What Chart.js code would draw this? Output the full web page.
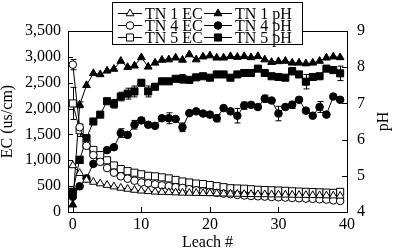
<!DOCTYPE html>
<html>
<head>
<meta charset="utf-8">
<script src="https://cdn.jsdelivr.net/npm/chart.js@4/dist/chart.umd.min.js"></script>
<style>
html, body { margin: 0; padding: 0; background: #fff; }
</style>
</head>
<body>
<canvas id="chart" width="393" height="251"></canvas>
<script>
// leach number (x)
const leach = [0, 1, 2, 3, 4, 5, 6, 7, 8, 9, 10, 11, 12, 13, 14, 15, 16, 17, 18, 19,
  20, 21, 22, 23, 24, 25, 26, 27, 28, 29, 30, 31, 32, 33, 34, 35, 36, 37, 38, 39];

// EC (us/cm), left axis
const tn1EC = [900, 750, 620, 580, 550, 520, 490, 465, 445, 425, 410, 400, 390, 385, 380, 375, 370, 368, 365, 362,
  360, 356, 354, 350, 348, 345, 344, 340, 340, 336, 335, 332, 330, 328, 326, 322, 320, 318, 316, 312];
const tn4EC = [2850, 1640, 1280, 1100, 970, 850, 760, 690, 645, 605, 570, 555, 535, 515, 500, 480, 465, 440, 420, 400,
  385, 370, 356, 345, 330, 320, 310, 304, 298, 291, 285, 279, 272, 266, 260, 255, 246, 240, 225, 213];
const tn5EC = [2100, 1580, 1300, 1200, 1100, 1000, 900, 830, 790, 760, 730, 700, 690, 670, 650, 620, 590, 570, 550, 540,
  520, 500, 480, 460, 455, 450, 440, 430, 425, 420, 415, 410, 400, 395, 390, 385, 380, 375, 370, 390];

// pH, right axis
const tn1pH = [4.2, 6.96, 7.5, 7.83, 7.8, 7.9, 7.95, 8.17, 8.0, 8.04, 8.27, 8.01, 8.12, 8.2, 8.21, 8.26, 8.2, 8.35, 8.21, 8.29,
  8.32, 8.26, 8.26, 8.3, 8.28, 8.3, 8.27, 8.3, 8.21, 8.14, 8.16, 8.17, 8.12, 8.12, 8.1, 8.12, 8.17, 8.26, 8.29, 8.27];
const tn4pH = [4.42, 4.71, 4.93, 5.33, 5.48, 5.71, 5.79, 6.18, 6.13, 6.41, 6.53, 6.41, 6.38, 6.59, 6.59, 6.57, 6.34, 6.73, 6.78, 6.72,
  6.69, 6.59, 6.87, 6.78, 6.66, 6.94, 6.96, 6.9, 7.13, 7.08, 6.72, 6.9, 6.96, 7.1, 6.8, 6.66, 6.9, 6.69, 7.19, 7.1];
const tn5pH = [4.56, 5.44, 6.04, 6.5, 6.69, 7.06, 6.99, 7.19, 7.27, 7.33, 7.57, 7.33, 7.46, 7.61, 7.61, 7.68, 7.68, 7.65, 7.72, 7.75,
  7.71, 7.8, 7.8, 7.71, 7.8, 7.84, 7.84, 7.96, 7.84, 7.75, 7.73, 7.71, 7.89, 7.8, 7.6, 7.73, 7.75, 7.96, 7.92, 7.83];

// error bars: [leach, +/- value]
const tn4ECErr = [[0, 100]];
const tn5ECErr = [[0, 310], [1, 120]];
const tn1pHErr = [[1, 0.08]];
const tn4pHErr = [[7, 0.12], [9, 0.12], [10, 0.08], [14, 0.15], [16, 0.12], [21, 0.1], [24, 0.2], [25, 0.1], [28, 0.1],
  [30, 0.2], [32, 0.1], [36, 0.15]];
const tn5pHErr = [[1, 0.1], [6, 0.12], [7, 0.12], [8, 0.15], [9, 0.15], [11, 0.15], [16, 0.12], [32, 0.1], [34, 0.2], [39, 0.2]];

// axis ticks
const xTicks = [0, 10, 20, 30, 40];
const ecTicks = [0, 500, 1000, 1500, 2000, 2500, 3000, 3500];
const phTicks = [4, 5, 6, 7, 8, 9];

const font = { family: 'Liberation Serif', size: 16 };
const titleFont = { family: 'Liberation Serif', size: 16, lineHeight: 1 };

function pts(arr) {
    return leach.map((x, i) => ({ x: x, y: arr[i] }));
}

function series(label, arr, axis, style, open, radius, errs) {
    return {
        label: label,
        data: pts(arr),
        yAxisID: axis,
        borderColor: '#000',
        borderWidth: 1,
        pointStyle: style,
        pointRadius: radius,
        pointBorderWidth: 1,
        pointBorderColor: '#000',
        pointBackgroundColor: open ? '#fff' : '#000',
        tension: 0,
        fill: false,
        errs: errs
    };
}

const datasets = [
    series('TN 1 EC', tn1EC, 'y', 'triangle', true, 4.5, []),
    series('TN 4 EC', tn4EC, 'y', 'circle', true, 3.8, tn4ECErr),
    series('TN 5 EC', tn5EC, 'y', 'rect', true, 5, tn5ECErr),
    series('TN 1 pH', tn1pH, 'y1', 'triangle', false, 4.5, tn1pHErr),
    series('TN 4 pH', tn4pH, 'y1', 'circle', false, 3.8, tn4pHErr),
    series('TN 5 pH', tn5pH, 'y1', 'rect', false, 5, tn5pHErr)
];

function drawMarker(ctx, style, x, y, r, fill) {
    ctx.beginPath();
    if (style === 'circle') {
        ctx.arc(x, y, r, 0, Math.PI * 2);
    } else if (style === 'rect') {
        const s = r * Math.SQRT1_2;
        ctx.rect(x - s, y - s, 2 * s, 2 * s);
    } else {
        ctx.moveTo(x, y - r);
        ctx.lineTo(x + r * 0.866, y + r * 0.5);
        ctx.lineTo(x - r * 0.866, y + r * 0.5);
        ctx.closePath();
    }
    ctx.fillStyle = fill;
    ctx.fill();
    ctx.stroke();
}

// error bars drawn through the chart scales
const errorBars = {
    id: 'errorBars',
    beforeDatasetsDraw(chart) {
        const ctx = chart.ctx;
        ctx.save();
        ctx.strokeStyle = '#000';
        ctx.lineWidth = 1;
        chart.data.datasets.forEach(ds => {
            const ys = chart.scales[ds.yAxisID];
            ds.errs.forEach(([i, e]) => {
                const px = Math.round(chart.scales.x.getPixelForValue(leach[i])) + 0.5;
                const v = ds.data[i].y;
                const top = ys.getPixelForValue(v + e);
                const bot = ys.getPixelForValue(v - e);
                ctx.beginPath();
                ctx.moveTo(px, top); ctx.lineTo(px, bot);
                ctx.moveTo(px - 3, top); ctx.lineTo(px + 3, top);
                ctx.moveTo(px - 3, bot); ctx.lineTo(px + 3, bot);
                ctx.stroke();
            });
        });
        ctx.restore();
    }
};

// box round the plot, inward tick marks, right axis title
const frame = {
    id: 'frame',
    afterDatasetsDraw(chart) {
        const { ctx, chartArea: a, scales } = chart;
        ctx.save();
        ctx.strokeStyle = '#000';
        ctx.lineWidth = 1;
        ctx.strokeRect(a.left + 0.5, a.top + 0.5, a.right - a.left, a.bottom - a.top);
        ctx.beginPath();
        xTicks.forEach(v => {
            const px = Math.round(scales.x.getPixelForValue(v)) + 0.5;
            ctx.moveTo(px, a.bottom); ctx.lineTo(px, a.bottom - 5);
        });
        ecTicks.forEach(v => {
            const py = Math.round(scales.y.getPixelForValue(v)) + 0.5;
            ctx.moveTo(a.left, py); ctx.lineTo(a.left + 5, py);
        });
        phTicks.forEach(v => {
            const py = Math.round(scales.y1.getPixelForValue(v)) + 0.5;
            ctx.moveTo(a.right, py); ctx.lineTo(a.right - 5, py);
        });
        ctx.stroke();

        // pH title reads bottom to top, like the left one
        ctx.translate(384, (a.top + a.bottom) / 2);
        ctx.rotate(-Math.PI / 2);
        ctx.font = '16px "Liberation Serif"';
        ctx.textAlign = 'center';
        ctx.textBaseline = 'middle';
        ctx.fillStyle = '#000';
        ctx.fillText('pH', 0, 0);
        ctx.restore();
    }
};

// two-column legend with line + marker samples
const legendBox = {
    id: 'legendBox',
    afterDraw(chart) {
        const ctx = chart.ctx;
        const rows = [13, 25, 37];
        const lineX = [[118, 142], [204, 232]];
        const textX = [145, 235];
        ctx.save();
        ctx.fillStyle = '#fff';
        ctx.fillRect(112, 2, 190, 42);
        ctx.strokeStyle = '#000';
        ctx.lineWidth = 1;
        ctx.strokeRect(112.5, 2.5, 190, 42);
        ctx.font = '16px "Liberation Serif"';
        ctx.textBaseline = 'middle';
        chart.data.datasets.forEach((ds, i) => {
            const col = Math.floor(i / 3), row = i % 3;
            const y = rows[row] + 0.5;
            ctx.beginPath();
            ctx.moveTo(lineX[col][0], y);
            ctx.lineTo(lineX[col][1], y);
            ctx.stroke();
            drawMarker(ctx, ds.pointStyle, (lineX[col][0] + lineX[col][1]) / 2, y, ds.pointRadius, ds.pointBackgroundColor);
            ctx.fillStyle = '#000';
            ctx.fillText(ds.label, textX[col], y + 1);
        });
        ctx.restore();
    }
};

new Chart(document.getElementById('chart'), {
    type: 'line',
    data: { datasets: datasets },
    plugins: [errorBars, frame, legendBox],
    options: {
        responsive: false,
        animation: false,
        devicePixelRatio: 1,
        layout: { padding: { top: 31, left: 0, right: 0, bottom: 0 } },
        plugins: {
            legend: { display: false },
            tooltip: { enabled: false }
        },
        scales: {
            x: {
                type: 'linear',
                min: -0.7,
                max: 40,
                afterBuildTicks: s => { s.ticks = xTicks.map(v => ({ value: v })); },
                afterFit: s => { s.height = 39; },
                grid: { display: false, drawTicks: false },
                border: { display: false },
                ticks: { font: font, color: '#000', padding: 3, maxRotation: 0 },
                title: { display: true, text: 'Leach #', font: titleFont, color: '#000', padding: { top: 0, bottom: 0 } }
            },
            y: {
                position: 'left',
                min: 0,
                max: 3500,
                afterBuildTicks: s => { s.ticks = ecTicks.map(v => ({ value: v })); },
                afterFit: s => { s.width = 68; },
                grid: { display: false, drawTicks: false },
                border: { display: false },
                ticks: { font: font, color: '#000', padding: 7, callback: v => v.toLocaleString('en-US') },
                title: { display: true, text: 'EC (us/cm)', font: titleFont, color: '#000', padding: 0 }
            },
            y1: {
                position: 'right',
                min: 4,
                max: 9,
                afterBuildTicks: s => { s.ticks = phTicks.map(v => ({ value: v })); },
                afterFit: s => { s.width = 46; },
                grid: { display: false, drawTicks: false },
                border: { display: false },
                ticks: { font: font, color: '#000', padding: 10 },
                title: { display: false }
            }
        }
    }
});
</script>
</body>
</html>
